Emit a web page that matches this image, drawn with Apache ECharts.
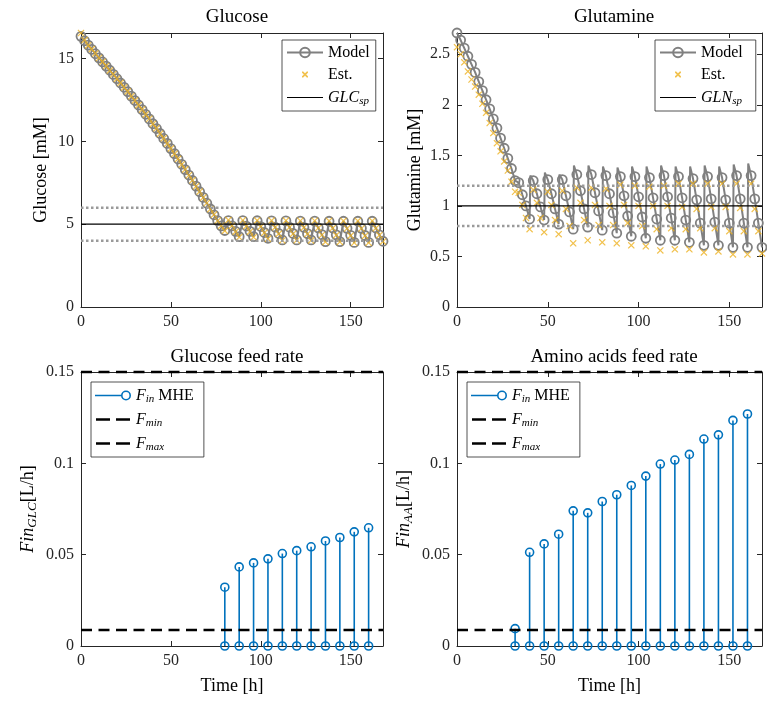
<!DOCTYPE html>
<html>
<head>
<meta charset="utf-8">
<script src="https://cdn.jsdelivr.net/npm/echarts@6/dist/echarts.min.js"></script>
<style>
  html, body { margin: 0; padding: 0; background: #ffffff; }
  #chart { width: 767px; height: 706px; }
</style>
</head>
<body>
<div id="chart"></div>
<script>
// ---- data -------------------------------------------------------------
// sampling instants [h]
const timeH = [0,2,4,6,8,10,12,14,16,18,20,22,24,26,28,30,32,34,36,38,40,
  42,44,46,48,50,52,54,56,58,60,62,64,66,68,70,72,74,76,78,80,
  82,84,86,88,90,92,94,96,98,100,102,104,106,108,110,112,114,116,118,120,
  122,124,126,128,130,132,134,136,138,140,142,144,146,148,150,152,154,156,158,160,
  162,164,166,168];

// glucose [mM]
const glcModel = [16.35,16.08,15.82,15.56,15.30,15.05,14.80,14.55,14.30,14.05,13.79,13.53,13.27,13.01,12.74,12.47,12.20,11.92,11.64,11.36,11.07,
  10.78,10.48,10.18,9.88,9.57,9.26,8.94,8.62,8.30,7.97,7.64,7.30,6.96,6.62,6.27,5.92,5.57,5.22,4.90,4.62,
  5.22,4.90,4.57,4.25, 5.22,4.89,4.57,4.25, 5.21,4.86,4.50,4.15, 5.20,4.82,4.44,4.05,
  5.20,4.82,4.44,4.05, 5.19,4.81,4.43,4.05, 5.19,4.78,4.37,3.95, 5.18,4.77,4.36,3.95,
  5.18,4.75,4.33,3.90, 5.18,4.75,4.32,3.90, 5.18,4.77,4.36,3.97];
const glcEst = [16.55,16.12,15.80,15.58,15.31,15.04,14.82,14.56,14.28,14.06,13.78,13.54,13.26,13.02,12.73,12.48,12.19,11.93,11.63,11.37,11.06,
  10.79,10.47,10.19,9.87,9.58,9.25,8.95,8.61,8.31,7.96,7.65,7.29,6.97,6.61,6.28,5.91,5.58,5.21,4.91,4.60,
  5.25,4.91,4.55,4.22, 5.24,4.88,4.55,4.22, 5.23,4.85,4.48,4.12, 5.22,4.81,4.42,4.02,
  5.22,4.81,4.42,4.03, 5.21,4.80,4.41,4.02, 5.21,4.77,4.35,3.93, 5.20,4.76,4.34,3.93,
  5.20,4.74,4.31,3.88, 5.20,4.74,4.30,3.88, 5.20,4.76,4.34,3.95];
const glcSetpoint = 5;
const glcBand = [4, 6];

// glutamine [mM]
const glnModel = [2.71,2.64,2.56,2.48,2.40,2.32,2.23,2.14,2.05,1.96,1.86,1.77,1.67,1.57,1.47,1.37,1.25,1.23,1.11,1.00,0.87,
  1.25,1.12,0.99,0.86, 1.26,1.12,0.97,0.82, 1.26,1.10,0.94,0.77, 1.31,1.15,0.97,0.79,
  1.31,1.13,0.95,0.76, 1.30,1.12,0.93,0.73, 1.29,1.10,0.90,0.70, 1.29,1.09,0.89,0.68,
  1.28,1.08,0.87,0.66, 1.30,1.09,0.88,0.66, 1.29,1.08,0.86,0.64, 1.27,1.06,0.83,0.61,
  1.29,1.07,0.84,0.61, 1.28,1.06,0.83,0.59, 1.30,1.07,0.83,0.59, 1.30,1.07,0.83,0.59];
const glnEst = [2.57,2.50,2.42,2.33,2.25,2.18,2.10,2.01,1.92,1.82,1.72,1.62,1.54,1.44,1.35,1.24,1.14,1.13,1.01,0.88,0.77,
  1.16,1.03,0.88,0.74, 1.14,1.01,0.86,0.72, 1.15,0.97,0.80,0.63, 1.18,1.03,0.86,0.66,
  1.18,1.01,0.81,0.64, 1.17,1.00,0.81,0.63, 1.21,1.01,0.83,0.61, 1.20,1.00,0.80,0.60,
  1.19,1.00,0.77,0.56, 1.20,1.00,0.78,0.57, 1.22,0.99,0.77,0.57, 1.22,0.97,0.78,0.54,
  1.22,0.99,0.78,0.55, 1.22,0.99,0.75,0.52, 1.22,0.98,0.75,0.52, 1.22,0.97,0.75,0.53];
// model response right after each amino-acid bolus
const glnPulseTime = [40.4,48.4,56.4,64.4,72.4,80.4,88.4,96.4,104.4,112.4,120.4,128.4,136.4,144.4,152.4,160.4];
const glnPulse = [1.30,1.33,1.31,1.40,1.40,1.39,1.38,1.39,1.39,1.40,1.39,1.39,1.40,1.39,1.41,1.42];
const glnSetpoint = 1;
const glnBand = [0.8, 1.2];

// feed rates [L/h]
const glcFeedTime = [80,88,96,104,112,120,128,136,144,152,160];
const glcFeed = [0.0322,0.0433,0.0455,0.0477,0.0506,0.0522,0.0543,0.0575,0.0594,0.0625,0.0647];
const aaFeedTime = [32,40,48,56,64,72,80,88,96,104,112,120,128,136,144,152,160];
const aaFeed = [0.0095,0.0513,0.0559,0.0612,0.0740,0.0729,0.0791,0.0828,0.0879,0.0930,0.0996,0.1018,0.1049,0.1133,0.1156,0.1235,0.1270];
const feedMin = 0.0088;
const feedMax = 0.15;

const timeRange = [0, 168];

// ---- styling ----------------------------------------------------------
const FONT = 'Liberation Serif';
const AXIS_COLOR = '#262626';
const GREY = '#808080';
const GOLD = '#EDB120';
const BLUE = '#0072BD';
const CROSS = 'path://M1.2,0L5,3.8L8.8,0L10,1.2L6.2,5L10,8.8L8.8,10L5,6.2L1.2,10L0,8.8L3.8,5L0,1.2Z';
// legend glyphs (the two zero-area corners keep every glyph on a 36x12 box)
const BOX_A = 'M0,0L0.01,0L0,0.01Z ';
const BOX_B = ' M36,12L35.99,12L36,11.99Z';
const ICON_CROSS = 'path://' + BOX_A + 'M15,3L16.2,3L18,4.8L19.8,3L21,3L21,4.2L19.2,6L21,7.8L21,9L19.8,9L18,7.2L16.2,9L15,9L15,7.8L16.8,6L15,4.2Z' + BOX_B;
const ICON_SOLID = 'path://' + BOX_A + 'M0,5.4L36,5.4L36,6.6L0,6.6Z' + BOX_B;
const ICON_DASH = 'path://' + BOX_A + 'M1,4.8L15,4.8L15,7.2L1,7.2Z M21,4.8L35,4.8L35,7.2L21,7.2Z' + BOX_B;
const ICON_STEM = 'path://M0,4.3L27,4.3L27,5.7L0,5.7Z M36,5A5,5 0 1,1 26,5A5,5 0 1,1 36,5Z M34.4,5A3.4,3.4 0 1,0 27.6,5A3.4,3.4 0 1,0 34.4,5Z';

const rich = (size) => ({
  it: { fontFamily: FONT, fontStyle: 'italic', fontSize: size, lineHeight: size + 1 },
  rm: { fontFamily: FONT, fontSize: size, lineHeight: size + 1 },
  sub: { fontFamily: FONT, fontStyle: 'italic', fontSize: Math.round(size * 0.7),
         lineHeight: Math.round(size * 0.5), padding: [Math.round(size * 0.5), 0, 0, 0] }
});

const grids = [
  { left: 81, top: 33, width: 302, height: 274 },
  { left: 457, top: 33, width: 305, height: 274 },
  { left: 81, top: 372, width: 302, height: 274 },
  { left: 457, top: 372, width: 305, height: 274 }
];

function xAxes(g, withName) {
  const base = {
    type: 'value', gridIndex: g, min: timeRange[0], max: timeRange[1], interval: 50,
    splitLine: { show: false },
    axisLine: { show: true, onZero: false, lineStyle: { color: AXIS_COLOR, width: 1 } },
    axisTick: { show: true, inside: true, length: 5, lineStyle: { color: AXIS_COLOR } }
  };
  return [
    Object.assign({}, base, {
      position: 'bottom',
      axisLabel: { show: true, showMaxLabel: false, fontFamily: FONT, fontSize: 16, color: AXIS_COLOR, margin: 7 },
      name: withName ? 'Time [h]' : '', nameLocation: 'middle', nameGap: 31,
      nameTextStyle: { fontFamily: FONT, fontSize: 18, color: '#000' }
    }),
    Object.assign({}, base, { position: 'top', axisLabel: { show: false } })
  ];
}

function yAxes(g, max, interval, name, gap, showMax) {
  const base = {
    type: 'value', gridIndex: g, min: 0, max: max, interval: interval,
    splitLine: { show: false },
    axisLine: { show: true, onZero: false, lineStyle: { color: AXIS_COLOR, width: 1 } },
    axisTick: { show: true, inside: true, length: 5, lineStyle: { color: AXIS_COLOR } }
  };
  return [
    Object.assign({}, base, {
      position: 'left',
      axisLabel: { show: true, showMaxLabel: showMax, fontFamily: FONT, fontSize: 16, color: AXIS_COLOR, margin: 7 },
      name: name, nameLocation: 'middle', nameGap: gap, nameRotate: 90,
      nameTextStyle: { fontFamily: FONT, fontSize: 18, color: '#000', rich: rich(18) }
    }),
    Object.assign({}, base, { position: 'right', axisLabel: { show: false } })
  ];
}

// ---- series builders ---------------------------------------------------
function pairs(ts, vs) { return ts.map((t, i) => [t, vs[i]]); }

function modelData(ts, vs, pulseT, pulseV) {
  const out = [];
  ts.forEach((t, i) => {
    out.push([t, vs[i]]);
    if (pulseT) {
      pulseT.forEach((pt, k) => {
        if (pt > t && (i === ts.length - 1 || pt < ts[i + 1])) {
          out.push({ value: [pt, pulseV[k]], symbol: 'none' });
        }
      });
    }
  });
  return out;
}

function modelSeries(g, data) {
  return {
    name: 'Model', type: 'line', xAxisIndex: 2 * g, yAxisIndex: 2 * g,
    data: data, showSymbol: true, showAllSymbol: true, symbol: 'circle', symbolSize: 9,
    lineStyle: { color: GREY, width: 2 },
    itemStyle: { color: 'rgba(255,255,255,0)', borderColor: GREY, borderWidth: 1.8 },
    clip: false, z: 2, emphasis: { disabled: true }
  };
}

function estSeries(g, data) {
  return {
    name: 'Est.', type: 'scatter', xAxisIndex: 2 * g, yAxisIndex: 2 * g,
    data: data, symbol: CROSS, symbolSize: 7,
    itemStyle: { color: GOLD }, clip: false, z: 3, emphasis: { disabled: true }
  };
}

function hLine(g, name, y, color, width, type, z) {
  return {
    name: name, type: 'line', xAxisIndex: 2 * g, yAxisIndex: 2 * g,
    data: [[timeRange[0], y], [timeRange[1], y]], symbol: 'none', showSymbol: false,
    lineStyle: { color: color, width: width, type: type, cap: 'butt' },
    itemStyle: { color: color }, clip: false, z: z, silent: true
  };
}

function stemSeries(g, ts, vs) {
  return {
    name: 'Fin', type: 'custom', xAxisIndex: 2 * g, yAxisIndex: 2 * g,
    data: pairs(ts, vs), itemStyle: { color: BLUE }, clip: false, z: 3,
    renderItem: function (params, api) {
      const t = api.value(0), v = api.value(1);
      const top = api.coord([t, v]);
      const base = api.coord([t, 0]);
      const st = { stroke: BLUE, fill: 'none', lineWidth: 1.6 };
      return {
        type: 'group',
        children: [
          { type: 'line', shape: { x1: base[0], y1: base[1], x2: top[0], y2: top[1] }, style: { stroke: BLUE, lineWidth: 1.6 } },
          { type: 'circle', shape: { cx: top[0], cy: top[1], r: 4 }, style: st },
          { type: 'circle', shape: { cx: base[0], cy: base[1], r: 4 }, style: st }
        ]
      };
    }
  };
}

// ---- legends -----------------------------------------------------------
const legendLabels = {
  'Model': '{rm|Model}',
  'Est.': '{rm|Est.}',
  'GLCsp': '{it|GLC}{sub|sp}',
  'GLNsp': '{it|GLN}{sub|sp}',
  'Fin': '{it|F}{sub|in}{rm| MHE}',
  'Fmin': '{it|F}{sub|min}',
  'Fmax': '{it|F}{sub|max}'
};

function legend(left, top, items, padRight) {
  return {
    show: true, orient: 'vertical', left: left, top: top,
    data: items, itemWidth: 36, itemHeight: 12, itemGap: 5,
    padding: [4, padRight, 4, 4], borderColor: AXIS_COLOR, borderWidth: 0.8, backgroundColor: '#ffffff',
    selectedMode: false, inactiveColor: '#ffffff',
    textStyle: { fontFamily: FONT, fontSize: 16, color: '#000', lineHeight: 16, rich: rich(16) },
    formatter: (n) => legendLabels[n]
  };
}

const titleStyle = { fontFamily: FONT, fontSize: 19, fontWeight: 'normal', color: '#000' };

const option = {
  animation: false,
  backgroundColor: '#ffffff',
  title: [
    { text: 'Glucose', left: 232, top: 3, textAlign: 'center', textStyle: titleStyle },
    { text: 'Glutamine', left: 609, top: 3, textAlign: 'center', textStyle: titleStyle },
    { text: 'Glucose feed rate', left: 232, top: 343, textAlign: 'center', textStyle: titleStyle },
    { text: 'Amino acids feed rate', left: 609, top: 343, textAlign: 'center', textStyle: titleStyle }
  ],
  legend: [
    legend(282, 40, ['Model', { name: 'Est.', icon: ICON_CROSS }, { name: 'GLCsp', icon: ICON_SOLID }], 6),
    legend(655, 40, ['Model', { name: 'Est.', icon: ICON_CROSS }, { name: 'GLNsp', icon: ICON_SOLID }], 13),
    legend(91, 382, [{ name: 'Fin', icon: ICON_STEM }, { name: 'Fmin', icon: ICON_DASH }, { name: 'Fmax', icon: ICON_DASH }], 10),
    legend(467, 382, [{ name: 'Fin', icon: ICON_STEM }, { name: 'Fmin', icon: ICON_DASH }, { name: 'Fmax', icon: ICON_DASH }], 10)
  ],
  grid: grids,
  xAxis: [].concat(xAxes(0, false), xAxes(1, false), xAxes(2, true), xAxes(3, true)),
  yAxis: [].concat(
    yAxes(0, 16.55, 5, '{rm|Glucose [mM]}', 30, false),
    yAxes(1, 2.71, 0.5, '{rm|Glutamine [mM]}', 32, false),
    yAxes(2, feedMax, 0.05, '{it|Fin}{sub|GLC}{rm|[L/h]}', 43, true),
    yAxes(3, feedMax, 0.05, '{it|Fin}{sub|AA}{rm|[L/h]}', 43, true)
  ),
  series: [
    modelSeries(0, modelData(timeH, glcModel)),
    estSeries(0, pairs(timeH, glcEst)),
    hLine(0, 'GLCsp', glcSetpoint, '#000000', 1.3, 'solid', 4),
    hLine(0, 'band', glcBand[0], '#9a9a9a', 2.5, [2.5, 2.5], 4),
    hLine(0, 'band', glcBand[1], '#9a9a9a', 2.5, [2.5, 2.5], 4),

    modelSeries(1, modelData(timeH, glnModel, glnPulseTime, glnPulse)),
    estSeries(1, pairs(timeH, glnEst)),
    hLine(1, 'GLNsp', glnSetpoint, '#000000', 1.3, 'solid', 4),
    hLine(1, 'band', glnBand[0], '#9a9a9a', 2.5, [2.5, 2.5], 4),
    hLine(1, 'band', glnBand[1], '#9a9a9a', 2.5, [2.5, 2.5], 4),

    stemSeries(2, glcFeedTime, glcFeed),
    hLine(2, 'Fmin', feedMin, '#000000', 2.5, [11, 6.5], 4),
    hLine(2, 'Fmax', feedMax, '#000000', 2.5, [11, 6.5], 4),

    stemSeries(3, aaFeedTime, aaFeed),
    hLine(3, 'Fmin', feedMin, '#000000', 2.5, [11, 6.5], 4),
    hLine(3, 'Fmax', feedMax, '#000000', 2.5, [11, 6.5], 4)
  ]
};

const chart = echarts.init(document.getElementById('chart'), null, { renderer: 'canvas' });
chart.setOption(option);
</script>
</body>
</html>
